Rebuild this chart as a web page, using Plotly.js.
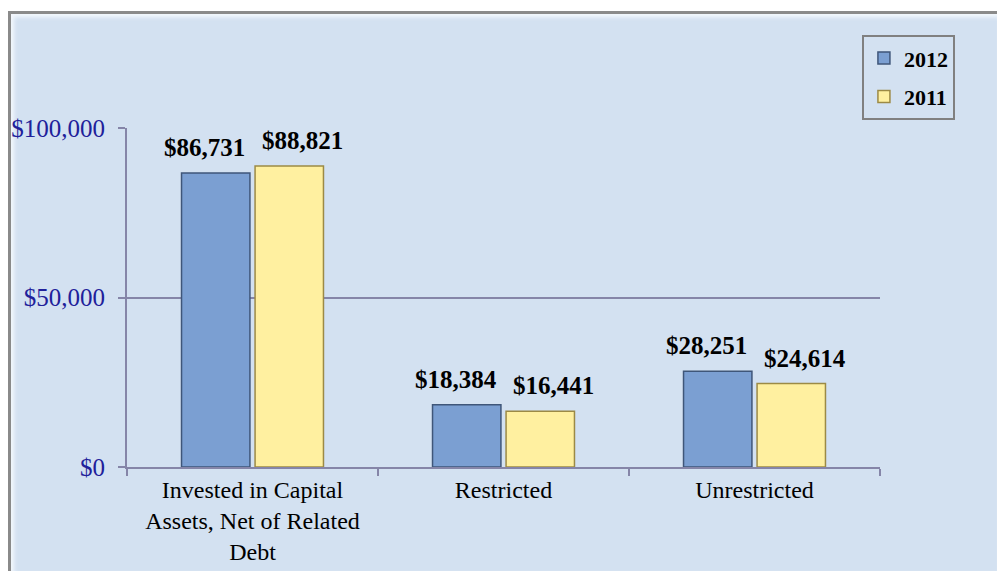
<!DOCTYPE html>
<html>
<head>
<meta charset="utf-8">
<script src="https://cdn.plot.ly/plotly-3.0.1.min.js"></script>
<style>
html,body{margin:0;padding:0;background:#ffffff;width:997px;height:571px;overflow:hidden;}
#frame{position:absolute;left:8px;top:11px;width:989px;height:560px;box-sizing:border-box;border-left:3px solid #8a8a8a;border-top:3px solid #8a8a8a;background:#d3e1f1;box-shadow:inset 3px 3px 4px #f4f8fd;}
#chart{position:absolute;left:0;top:0;}
</style>
</head>
<body>
<div id="frame"><div id="chart"></div></div>
<script>
const categories = ["Invested in Capital<br>Assets, Net of Related<br>Debt", "Restricted", "Unrestricted"];
const values2012 = [86731, 18384, 28251];
const values2011 = [88821, 16441, 24614];
const seriesNames = ["2012", "2011"];
const yTicks = [0, 50000, 100000];

function fmt(v){ return "$" + v.toLocaleString("en-US"); }

const serif = "Liberation Serif, Times New Roman, serif";

const traces = [
  {
    type: "bar", name: seriesNames[0], x: categories, y: values2012, legendgroup: "a",
    marker: {color: "#7b9fd2", line: {color: "#3f5679", width: 1.5}}
  },
  {
    type: "bar", name: seriesNames[1], x: categories, y: values2011, legendgroup: "b",
    marker: {color: "#fff0a0", line: {color: "#9c8a45", width: 1.5}}
  }
];

const labelFont = {family: serif, size: 25, color: "#000000", weight: "bold"};
const annotations = [];
categories.forEach((c, i) => {
  annotations.push({x: c, y: values2012[i], xref: "x", yref: "y", text: fmt(values2012[i]),
    showarrow: false, yanchor: "bottom", xanchor: "center", xshift: -48, yshift: 10, font: labelFont});
  annotations.push({x: c, y: values2011[i], xref: "x", yref: "y", text: fmt(values2011[i]),
    showarrow: false, yanchor: "bottom", xanchor: "center", xshift: 50, yshift: 10, font: labelFont});
});

const layout = {
  width: 986, height: 557,
  margin: {l: 116, r: 117, t: 114, b: 104},
  paper_bgcolor: "rgba(0,0,0,0)",
  plot_bgcolor: "rgba(0,0,0,0)",
  barmode: "group",
  bargap: 0.414,
  bargroupgap: 0.07,
  font: {family: serif, color: "#000000"},
  showlegend: true,
  annotations: annotations,
  legend: {
    x: 0.976, xanchor: "left", y: 1.274, yanchor: "top",
    bgcolor: "rgba(0,0,0,0)", bordercolor: "#808080", borderwidth: 2,
    font: {family: serif, size: 22, color: "#000000", weight: "bold"},
    traceorder: "grouped", tracegroupgap: 7, itemwidth: 30
  },
  xaxis: {
    type: "category",
    showline: true, linecolor: "#8585a8", linewidth: 2,
    ticks: "outside", ticklen: 7, tickcolor: "#8585a8", tickwidth: 2,
    tickson: "boundaries",
    tickfont: {family: serif, size: 24, color: "#000000"},
    showgrid: false
  },
  yaxis: {
    range: [0, 100000],
    tickmode: "array",
    tickvals: yTicks,
    ticktext: yTicks.map(fmt),
    showline: true, linecolor: "#8585a8", linewidth: 2,
    ticks: "outside", ticklen: 7, tickcolor: "#8585a8", tickwidth: 2,
    ticklabelstandoff: 8,
    showgrid: true, gridcolor: "#8585a8", gridwidth: 2,
    zeroline: false,
    tickfont: {family: serif, size: 25, color: "#20209a"}
  }
};

Plotly.newPlot("chart", traces, layout, {displayModeBar: false, staticPlot: true});
</script>
</body>
</html>
